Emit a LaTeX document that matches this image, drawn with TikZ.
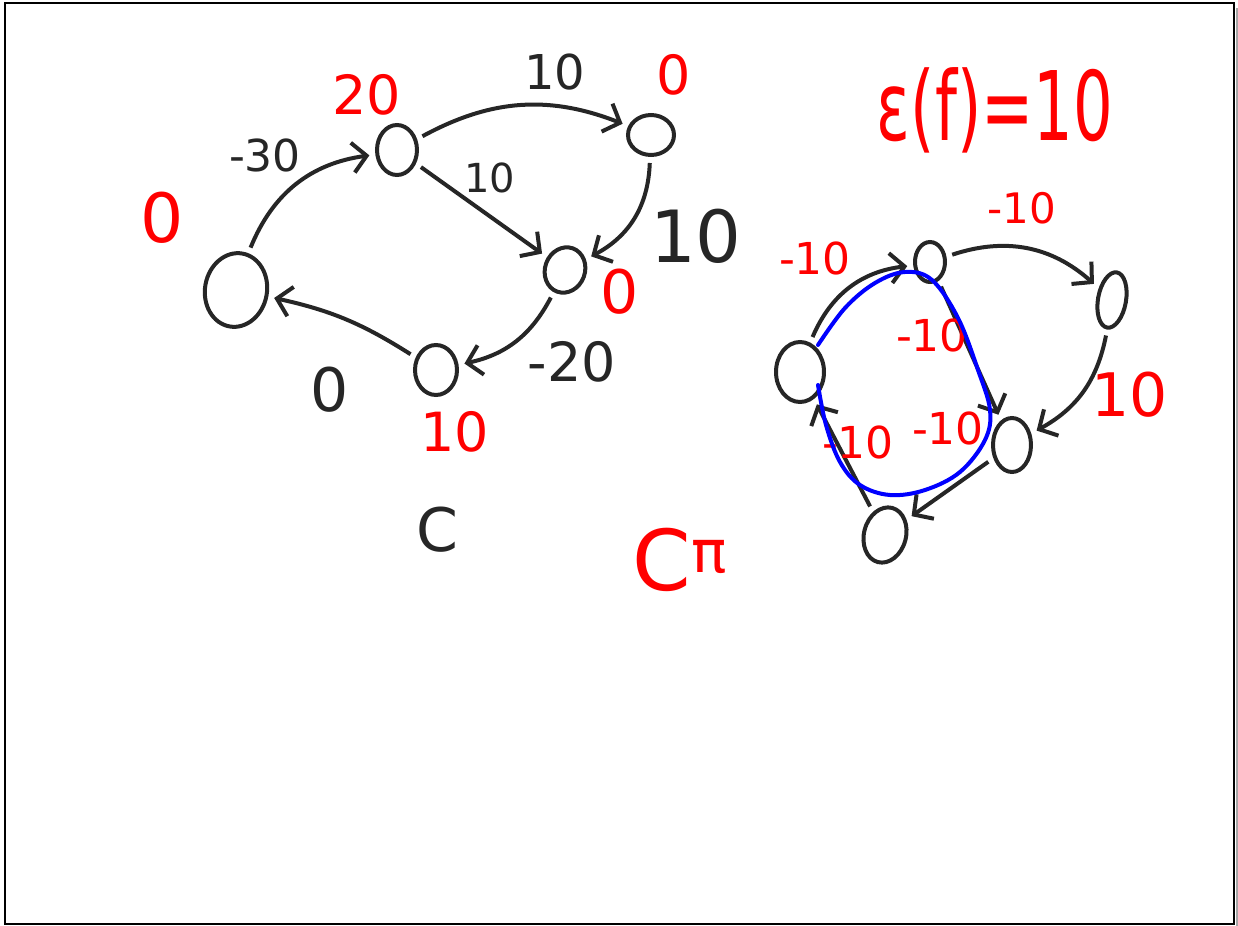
\documentclass[tikz,border=0pt]{standalone}
\usepackage{fontspec}
\setmainfont{DejaVu Sans}
\usetikzlibrary{shapes.geometric,arrows.meta,positioning}
\tikzstyle{vtx} = [draw=black!85, ellipse, line width=2pt, inner sep=0pt, outer sep=4pt]
\tikzstyle{flow} = [-{Straight Barb[length=7pt,width=15pt]}, line width=2pt, draw=black!85]
\tikzstyle{cost} = [text=black!85, inner sep=0pt]
\tikzstyle{pot} = [text=red, inner sep=0pt]
\newcommand{\fs}[1]{\fontsize{#1}{#1}\selectfont}

\begin{document}
\begin{tikzpicture}[x=0.5pt,y=-0.5pt]
	\useasboundingbox (0,0) rectangle (1238,926);
	\draw[line width=1.2pt] (5,3) rectangle (1234,924);
	\draw[gray!70, line width=1.5pt] (1237,8) -- (1237,926);

	% left graph
	\node[vtx, minimum width=31pt, minimum height=37pt, rotate=-10] (a) at (236,290) {};
	\node[vtx, minimum width=20pt, minimum height=25pt] (b) at (397,150) {};
	\node[vtx, minimum width=23pt, minimum height=20pt] (c) at (651,135) {};
	\node[vtx, minimum width=20pt, minimum height=23pt, rotate=-20] (d) at (565,270) {};
	\node[vtx, minimum width=21pt, minimum height=25pt] (e) at (436,370) {};

	\draw[flow] (a) to[bend left=30] (b);
	\draw[flow] (b) to[bend left=25] (c);
	\draw[flow] (b) -- (d);
	\draw[flow] (c) to[bend left=30] (d);
	\draw[flow] (d) to[bend left=25] (e);
	\draw[flow] (e) to[bend right=10] (a);

	\node[cost, font=\fs{22}] (lab) at (265,155) {-30};
	\node[cost, font=\fs{24}] (lbc) at (555,72) {10};
	\node[cost, font=\fs{20}] (lbd) at (490,178) {10};
	\node[cost, font=\fs{36}] (lcd) at (696,236) {10};
	\node[cost, font=\fs{27}] (lde) at (572,362) {-20};
	\node[cost, font=\fs{30}] (lea) at (330,390) {0};

	\node[pot, font=\fs{34}] (pa) at (162,218) {0};
	\node[pot, font=\fs{27}] (pb) at (367,95) {20};
	\node[pot, font=\fs{27}] (pc) at (674,75) {0};
	\node[pot, font=\fs{30}] (pd) at (620,292) {0};
	\node[pot, font=\fs{27}] (pe) at (455,432) {10};

	\node[cost, font=\fs{30}] (cost) at (437,530) {C};
	\node[pot, font=\fs{42}] (cpi) at (680,560) {C\textsuperscript{π}};
	\node[pot, font=\fs{48}, xscale=0.65] (eps) at (995,110) {ε(f)=10};

	% right graph
	\node[vtx, minimum width=24pt, minimum height=30pt] (p) at (800,372) {};
	\node[vtx, minimum width=15pt, minimum height=20pt] (q) at (930,262) {};
	\node[vtx, minimum width=14pt, minimum height=28pt, rotate=-10] (r) at (1112,300) {};
	\node[vtx, minimum width=19pt, minimum height=27pt] (s) at (1012,445) {};
	\node[vtx, minimum width=21pt, minimum height=28pt, rotate=-15] (t) at (885,535) {};

	\draw[flow] (p) to[bend left=30] (q);
	\draw[flow] (q) to[bend left=30] (r);
	\draw[flow] (r) to[bend left=25] (s);
	\draw[flow] (q) -- (s);
	\draw[flow] (s) -- (t);
	\draw[flow] (t) -- (p);

	\node[pot, font=\fs{22}] (lpq) at (815,258) {-10};
	\node[pot, font=\fs{21}] (lqr) at (1022,208) {-10};
	\node[pot, font=\fs{30}] (lrs) at (1130,395) {10};
	\node[pot, font=\fs{22}] (lqs) at (932,335) {-10};
	\node[pot, font=\fs{22}] (ltp) at (858,442) {-10};
	\node[pot, font=\fs{22}] (lst) at (948,428) {-10};

	% cycle
	\draw[blue, line width=2pt, line cap=round] plot[smooth, tension=0.6] coordinates {(818,345) (845,308) (875,283) (905,272) (932,280) (958,318) (978,370) (990,410) (985,440) (960,472) (925,490) (890,495) (860,485) (840,462) (826,425) (818,385)};
\end{tikzpicture}
\end{document}
